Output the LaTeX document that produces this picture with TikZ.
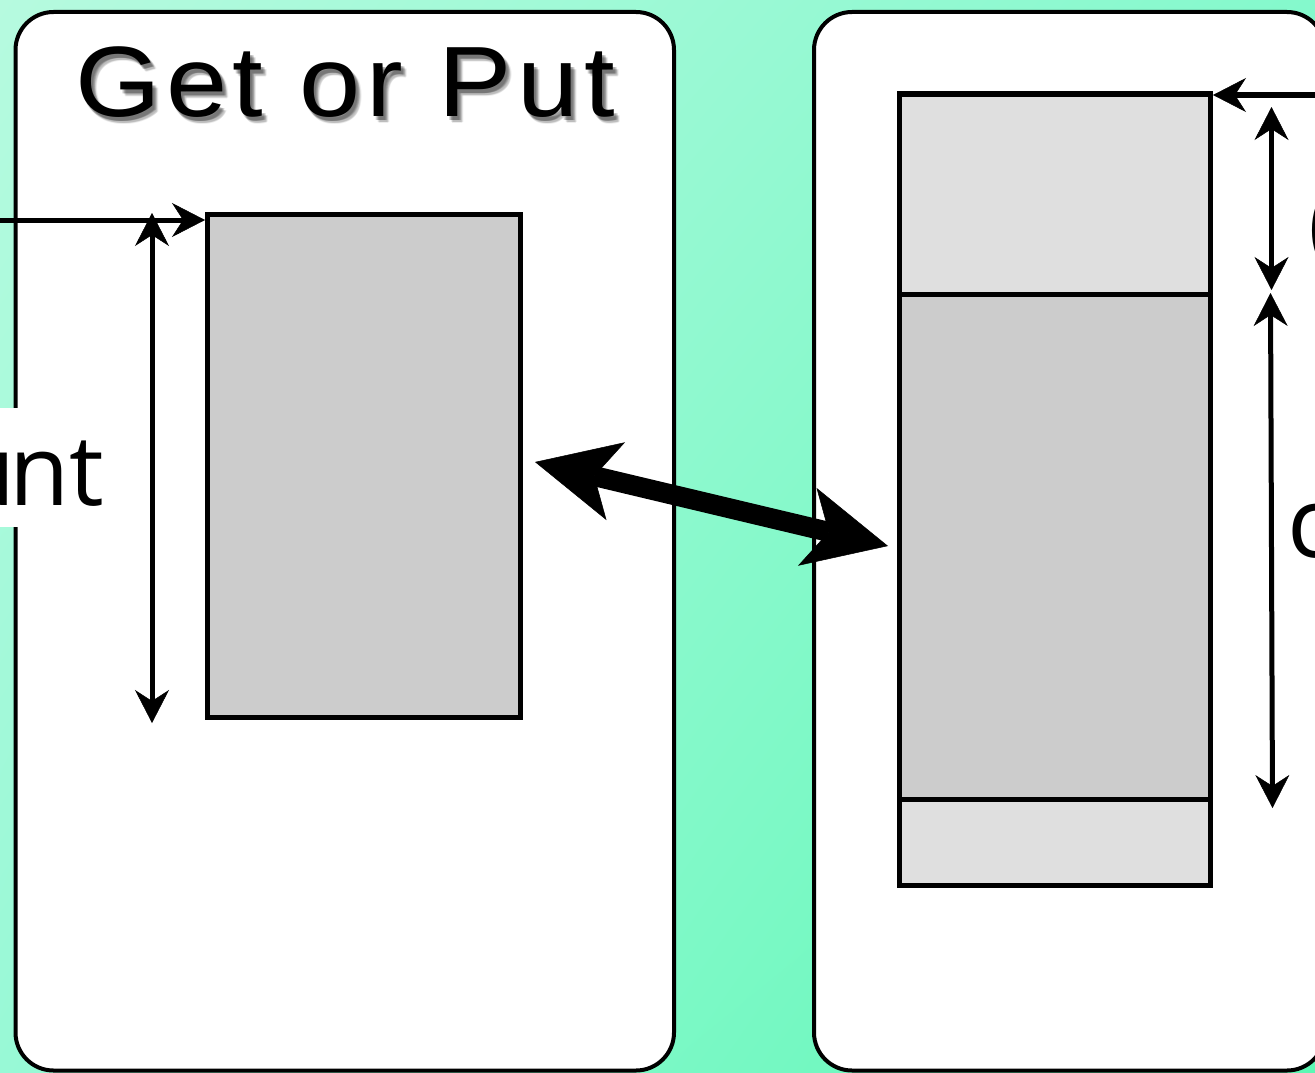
\documentclass[tikz,border=0pt]{standalone}
\usepackage{fontspec}
\setmainfont{Liberation Sans}
\newfontfamily\titlefont[LetterSpace=5]{Liberation Sans}
\newfontfamily\labelfont{Open Sans}
\usetikzlibrary{arrows.meta,calc,shadings}
\definecolor{bgUL}{RGB}{182,250,223}
\definecolor{bgUR}{RGB}{132,249,204}
\definecolor{bgLL}{RGB}{152,249,214}
\definecolor{bgLR}{RGB}{92,248,180}
\definecolor{blockmid}{RGB}{204,204,204}
\definecolor{blocklight}{RGB}{223,223,223}
\newcommand{\titlestr}{\scalebox{1.1}[1]{Get or Put}}
\begin{document}
\begin{tikzpicture}[x=1pt,y=-1pt,
  panel/.style={draw=black, line width=4pt, fill=white, rounded corners=38pt, inner sep=0pt},
  block/.style={draw=black, line width=5pt, inner sep=0pt, outer sep=0pt},
  smalltip/.style={-{Stealth[length=33pt,width=34pt,inset=11pt,line width=0.5pt]}},
  smallboth/.style={{Stealth[length=33pt,width=34pt,inset=11pt,line width=0.5pt]}-{Stealth[length=33pt,width=34pt,inset=11pt,line width=0.5pt]}},
  bigboth/.style={line width=20pt,{Stealth[length=83pt,width=80pt,inset=22pt,line width=0.5pt]}-{Stealth[length=83pt,width=80pt,inset=22pt,line width=0.5pt]}},
  thinline/.style={line width=5pt},
  labelbox/.style={fill=white, inner ysep=0pt, text height=97pt, text depth=22pt, font=\labelfont\fontsize{98}{98}\selectfont},
  titletext/.style={font=\titlefont\fontsize{100}{100}\selectfont, anchor=base, inner sep=0pt}
]
\useasboundingbox (0,0) rectangle (1315,1073);
\clip (0,0) rectangle (1315,1073);
\shade[upper left=bgUL, upper right=bgUR, lower left=bgLL, lower right=bgLR] (0,0) rectangle (1315,1073);

% panels
\node[panel, minimum width=658.5pt, minimum height=1058.5pt] (lpanel) at (344.75,541.25) {};
\node[panel, minimum width=511pt, minimum height=1058.5pt] (rpanel) at (1069.5,541.25) {};

% title with soft shadow
\foreach \dx/\dy [count=\i] in {2/3,3/4,4/5,3/3,4/4,5/5,2/4,4/3,5/6,6/5}
  \node[titletext, text=black, opacity=0.07] (shadow\i) at (345+\dx,117+\dy) {\titlestr};
\node[titletext] (title) at (345,117) {\titlestr};

% left block
\node[block, fill=blockmid, minimum width=313pt, minimum height=503pt] (lblock) at (364,466) {};

% right block (three parts)
\node[block, fill=blocklight, minimum width=311.5pt, minimum height=200pt] (rtop) at (1054.75,194) {};
\node[block, fill=blockmid, minimum width=311.5pt, minimum height=505pt] (rmid) at (1054.75,546.5) {};
\node[block, fill=blocklight, minimum width=311.5pt, minimum height=86.5pt] (rbot) at (1054.75,842.25) {};

% left arrows
\coordinate (lin) at (-30,220);
\coordinate (ltip) at ($(lblock.north west)+(-2.5,5.5)$);
\draw[thinline, smalltip] (lin) -- (ltip);
\coordinate (lvtop) at (152,213);
\coordinate (lvbot) at (152,723);
\draw[thinline, smallboth] (lvtop) -- (lvbot);

% left label
\node[labelbox, anchor=base east, inner xsep=12pt] (lcount) at (116,505) {u\kern-7pt nt};

% right arrows
\coordinate (rin) at (1345,95);
\coordinate (rtip) at ($(rtop.north east)+(2.5,1)$);
\draw[thinline, smalltip] (rin) -- (rtip);
\coordinate (rv1top) at (1271.5,107);
\coordinate (rv1bot) at (1271.5,290);
\draw[thinline, smallboth] (rv1top) -- (rv1bot);
\coordinate (rv2top) at (1270.5,293);
\coordinate (rv2bot) at (1272.5,808);
\draw[thinline, smallboth] (rv2top) -- (rv2bot);

% right labels (cut by the edge)
\node[labelbox, anchor=base west, inner xsep=10pt] (rcount) at (1277,557) {c};
\node[font=\labelfont\fontsize{98}{98}\selectfont, anchor=base west, inner sep=0pt] (roffset) at (1308,257) {(};

% big double arrow
\coordinate (bigL) at (535,462);
\coordinate (bigR) at (888,546);
\draw[bigboth] (bigL) -- (bigR);
\end{tikzpicture}
\end{document}
